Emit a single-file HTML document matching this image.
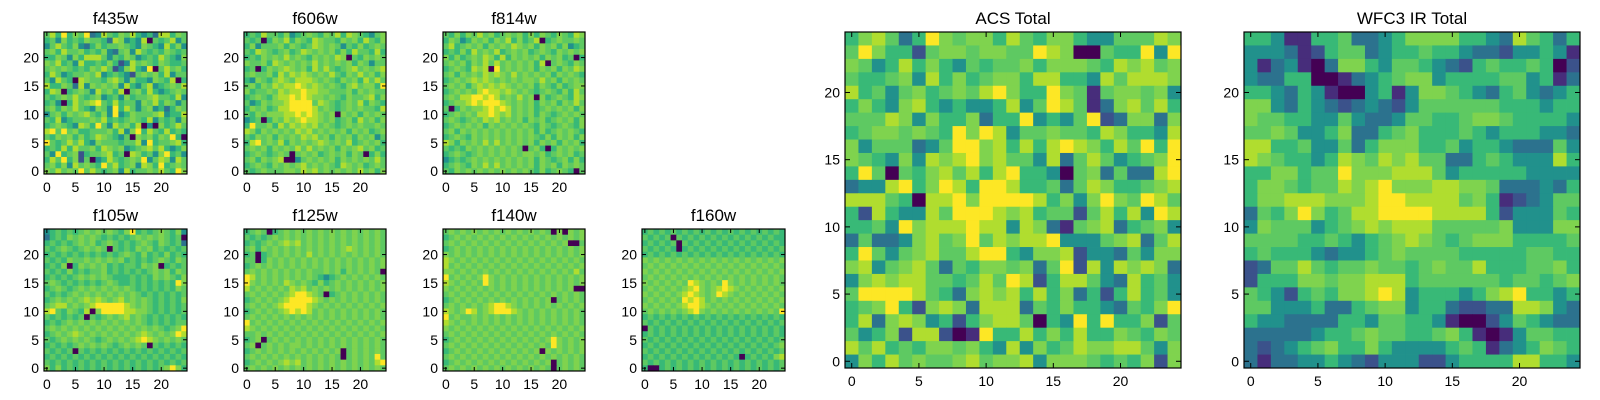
<!DOCTYPE html>
<html><head><meta charset="utf-8"><style>
html,body{margin:0;padding:0;background:#fff;}
svg{display:block;font-family:"Liberation Sans","DejaVu Sans",sans-serif;}
</style></head><body>
<svg id="fig" width="1600" height="400" viewBox="0 0 1600 400" xmlns="http://www.w3.org/2000/svg"></svg>
<script>
const tickValues = [0, 5, 10, 15, 20];
const panelTitles = ["f435w","f606w","f814w","f105w","f125w","f140w","f160w","ACS Total","WFC3 IR Total"];
const palette = ["#440154","#472d7b","#3b528b","#2c728e","#21918c","#38b977","#5ec962","#7fd34e","#b0dd2f","#fde725"];
// rows listed from y=24 (top) down to y=0, digits = intensity level 0..9
const f435w = ["6859576934865768545388576","5647565766538745480656846","4686574357566765476548574","6758667565743674865657656","5576475888646576456586547","7685648556575248676576556","6767656576862478549068675","5864566768456542676758466","6486508766578647554765805","8557638476767485468456768","5870567648675806758545676","6567686567456475667866584","5640586789658566476857646","6757686547649586467453576","4675767865749457666784558","6584566676856567658465647","5676548759648675804075686","8969675566675847958658565","6576757568765460767576950","9656868547666566849566785","5658586675876745678685457","6495672566785608756479564","5869572604586567694687486","6757486765968567487595676","7686769686567485667686597"];
const f606w = ["5658665745676576858765467","6560576857658766576758657","5746667576568767646575676","6587656756876767575866585","5657676867657676870657676","7667587676768676767576466","5605767876758686567867678","6766758687876768657686757","5476578768887676576758686","6757687889878767657867759","7566768788988776667576766","5676578898987767657667857","6457677899996876567685765","5767568899998676567676658","6576777889898767076757676","4560576878988767567586757","5966758687878676567676676","8757676768786767675767567","6576757676878675767576746","5896768576767876768567675","6767576768686767576786756","5676567606767567675760575","6757678004676767576767686","5676576767867676587675676","6567666776878676767686757"];
const f814w = ["6575768675676757576576587","5764576757685756805676676","6856767576768767576757456","5657586768567675676576767","7575676875857676757675605","6767576868676767580676576","5676587809676767576757687","6757676878768676767576765","5676787876767677686757676","6767578787876767576575677","5676768988787676567657586","6768899898676867075676587","5677898999876767576757686","6057677898986767567676757","5676768898786767576567676","6765676878676757675676757","5676767576767676576567657","6757676767676767575676765","5676576767676767657576757","8757676868676767576757675","6565767676767606750576767","5676567676767677675676756","4565676767676767576567575","5676576868676767576757676","6576767676767676575676506"];
const f105w = ["4565656767676579565676574","3565767676565656767676560","5656567675676565676576563","6567656767606565767565656","5656565656565676575657565","6565766767676756565676576","5657057676756566576705656","6565756566756565656767576","5656567676765556565767657","6765656565676556565656597","5676567676767676565656576","6565676767676767656565656","5676767878767867676565657","6788676789999987676565656","8965765807999988776565656","6565656065676786765656565","5656767676767676765656566","6767676767676767676765679","5676787676767676787676798","6567676765676767898767676","5656567676765676760656565","6565606565656565656565656","5656565656565656565656565","6565656565656565656565656","7575656565656565656567975"];
const f125w = ["5676056767676767676767676","6565676767676767676767676","5656767878676767676767676","6757676767676767678767676","5605676767686767676767676","6605767676767676767676767","5676767676767676767676767","6767676767676676757676760","9867676767676545676767676","9767676876765756767676767","8676767687867676767676767","6767676789987605676767676","5676767899998767676767676","6767678999987676767676767","5676767898986767676767676","6767676767676767676767676","9676767676767676767676767","8767676767676767676767676","6676767676767676767676767","5670676767676767676767676","6706767677676767676767676","5676767676767676706767676","6767676767676767606767696","5676767878676767676767689","6767676767676767676767676"];
const f140w = ["6767676767676767676070767","5676767676767676767676767","6767676767676767676767006","5676767676767676767676767","7676767676767676767676767","8767676767676767676767676","8676767676767676767676767","7767676767676767676767686","9676767976767676767676767","8767676976767676767676767","7676767676767676767676700","6767676767676767676767676","5676767676767676767067676","6767676789987676767676767","8767986789998767676767676","9676676767676767676767676","8767676767676767676767676","7676767676767676767676767","6767676767676767676767676","5676767676767676767976767","6767676767676767676976767","5676767676767676707676767","6767676767676767676767676","5676767676767676767067676","6767676767676767676067676"];
const f160w = ["5656565656565656565656565","6565606565656565656565655","5656560656565656565656565","6565650565656565656565656","5656565656565656565656565","7676767676767676767676767","6767676767676767676767676","7676767676767676767676767","6767676767676767676767676","7676767698767697676767676","6767676789767898767676767","7676767898767987676767676","6767676989867676767676767","7676767899876767676767676","6767676789767676767676769","5656565656565656565656565","6565656565656565656565656","0656565656565656565656565","5656565656565656565656565","6565656565656565656565656","5656565656565656565656567","6565656565656565656565656","5656565656565656505656578","6565656565656565656565656","5005656565656565656565656"];
const acsTotal = ["5786359767758657754466687","6975526776776698700655949","7645857546566757776587867","6556748575677588554868887","8564675676897559761677674","5754785454458469861378685","6668747557355945469237737","5677676597984667665875548","7466634699785858987586959","7654748789786648368645679","5960657868589554067363389","3448957985998556368755678","8886508897999985747976986","5285448699987856626858498","5564978889884873167835674","3633478679687889444678368","5964678668995477824436477","7846786365776736928487873","4787886656869825886438564","6999986537878585735258564","5679527873888365755436579","5837874525788605495955726","6457288201955857585576576","8685657767548475687788647","4758676678677847776565727"];
const wfc3Total = ["5541155633457777554386535","4443125663455655433244541","4134103775466543256556502","4335500134567745555664513","5543541004514776543564345","7743543234324666666555455","7665544643346655677655554","6676445733567555654555443","8855644635777556455433364","8765545876878663356544485","5577566977788864555554444","5776566878977788776333435","5778887778998888675123466","3657975688999988885244465","4766645678788866666744477","6666556545678765677755556","5655543445676666555556655","2366865667665676685556675","2555776778885666666566567","6542565778984555457895545","6644453356774553223388743","5443333554665541002465433","3333345567665567510146655","3234567557544445651345765","3133445432444224555588554"];

const panelData = [f435w, f606w, f814w, f105w, f125w, f140w, f160w, acsTotal, wfc3Total];
const panelBoxes = [
  [44,32,143,142],[244,32,142,142],[443,32,142,142],
  [44,229,143,142],[244,229,142,142],[443,229,142,142],[642,229,143,142],
  [845,32,336,336],[1244,32,336,336]
];
const NS = "http://www.w3.org/2000/svg";
const svg = document.getElementById("fig");
function mk(tag, attrs, parent){
  const e = document.createElementNS(NS, tag);
  for (const k in attrs) e.setAttribute(k, attrs[k]);
  (parent||svg).appendChild(e);
  return e;
}
panelData.forEach((rows, p) => {
  const [x0,y0,w,h] = panelBoxes[p];
  const n = rows.length;
  const ncol = 25;
  const xScale = v => x0 + (v + 0.5) * w / ncol;
  const yScale = v => y0 + h - (v + 0.5) * h / n;
  const g = mk("g", {});
  
  
  const cw = w / ncol, ch = h / n;
  rows.forEach((row, ri) => {
    const yv = n - 1 - ri;
    for (let c = 0; c < ncol; c++) {
      const ch0 = row.charAt(c);
      const lvl = ch0 === "" ? 6 : parseInt(ch0, 10);
      const r = mk("rect", {x: (xScale(c) - cw/2).toFixed(2), y: (yScale(yv) - ch/2).toFixed(2),
        width: (cw + 0.4).toFixed(2), height: (ch + 0.4).toFixed(2), fill: palette[lvl]}, g);
      
      
    }
  });
  const frame = mk("rect", {x: x0, y: y0, width: w, height: h, fill: "none", stroke: "#000", "stroke-width": 1.2}, g);
  
  
  const big = w > 200;
  const tl = big ? 5 : 4;
  const fs = 14;
  tickValues.forEach(t => {
    const tx = xScale(t), ty = yScale(t);
    mk("line", {x1: tx, y1: y0 + h, x2: tx, y2: y0 + h - tl, stroke: "#000"}, g);
    mk("line", {x1: tx, y1: y0, x2: tx, y2: y0 + tl, stroke: "#000"}, g);
    mk("line", {x1: x0, y1: ty, x2: x0 + tl, y2: ty, stroke: "#000"}, g);
    mk("line", {x1: x0 + w, y1: ty, x2: x0 + w - tl, y2: ty, stroke: "#000"}, g);
    const xl = mk("text", {x: tx, y: y0 + h + 18, "font-size": fs, "text-anchor": "middle", fill: "#000"}, g);
    xl.textContent = t;
    
    
    const yl = mk("text", {x: x0 - 5, y: ty + 5, "font-size": fs, "text-anchor": "end", fill: "#000"}, g);
    yl.textContent = t;
    
    
  });
  const title = mk("text", {x: x0 + w/2, y: y0 - 8, "font-size": 17, "text-anchor": "middle", fill: "#000"}, g);
  title.textContent = panelTitles[p];
  
  
});
</script>
</body></html>
